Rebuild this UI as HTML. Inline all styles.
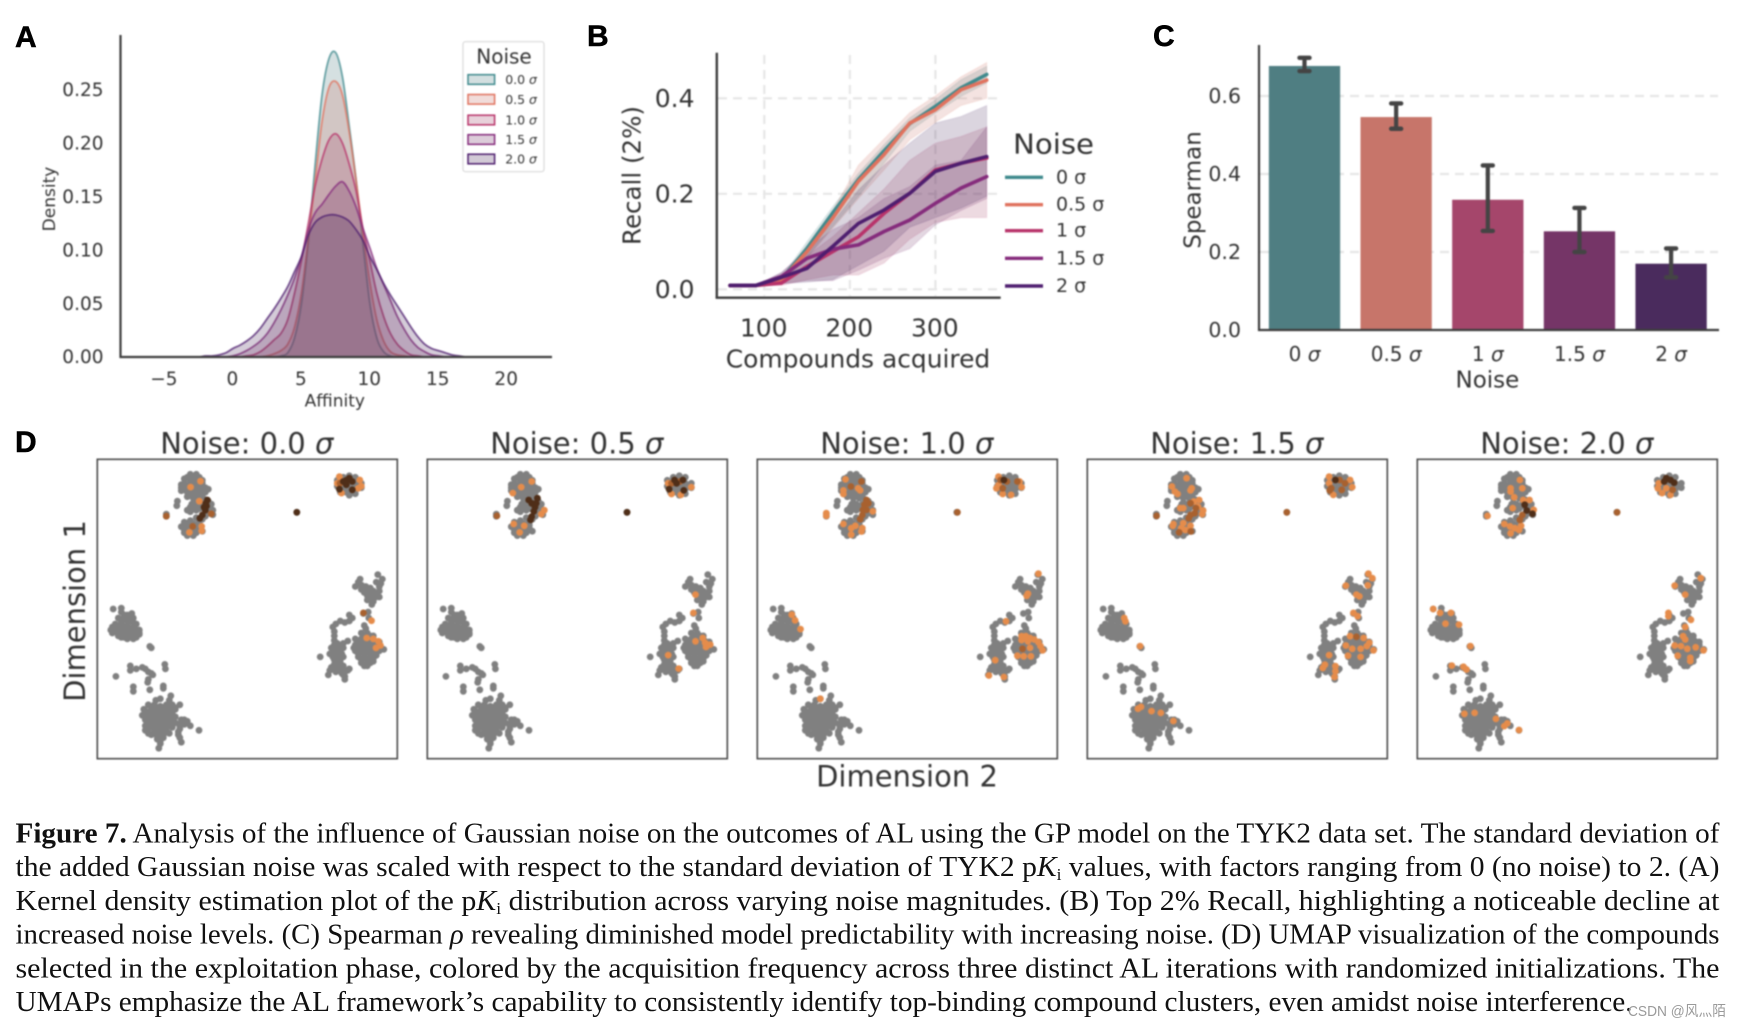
<!DOCTYPE html>
<html lang="en">
<head>
<meta charset="utf-8">
<title>Figure 7</title>
<style>
html,body{margin:0;padding:0;background:#fff;}
svg{display:block;}
text{font-family:"DejaVu Sans","Liberation Sans",sans-serif;fill:#333;}
.panel-letter{font-family:"Liberation Sans",sans-serif;font-weight:700;font-size:30px;fill:#000;stroke:#000;stroke-width:.5px;}
.cap{font-family:"Liberation Serif","Noto Serif CJK SC",serif;font-size:29px;fill:#111;}
</style>
</head>
<body>
<svg id="fig" xmlns="http://www.w3.org/2000/svg" width="1742" height="1027" viewBox="0 0 1742 1027">
  <rect x="0" y="0" width="1742" height="1027" fill="#fff"/>
  <g id="charts" style="filter:blur(0.7px)">
    <g id="panelA"></g>
    <g id="panelB"></g>
    <g id="panelC"></g>
    <g id="panelD"></g>
  </g>
  <text class="panel-letter" x="15" y="47">A</text>
  <text class="panel-letter" x="587" y="46">B</text>
  <text class="panel-letter" x="1153" y="46">C</text>
  <text class="panel-letter" x="15" y="452">D</text>
  <g style="filter:blur(0.3px)">
    <text class="cap" x="15.5" y="842.5" textLength="1704" lengthAdjust="spacingAndGlyphs"><tspan font-weight="700">Figure 7.</tspan> Analysis of the influence of Gaussian noise on the outcomes of AL using the GP model on the TYK2 data set. The standard deviation of</text>
    <text class="cap" x="15.5" y="876" textLength="1704" lengthAdjust="spacingAndGlyphs">the added Gaussian noise was scaled with respect to the standard deviation of TYK2 p<tspan font-style="italic">K</tspan><tspan dy="4" font-size="17">i</tspan><tspan dy="-4"> values, with factors ranging from 0 (no noise) to 2. (A)</tspan></text>
    <text class="cap" x="15.5" y="910" textLength="1704" lengthAdjust="spacingAndGlyphs">Kernel density estimation plot of the p<tspan font-style="italic">K</tspan><tspan dy="4" font-size="17">i</tspan><tspan dy="-4"> distribution across varying noise magnitudes. (B) Top 2% Recall, highlighting a noticeable decline at</tspan></text>
    <text class="cap" x="15.5" y="943.5" textLength="1704" lengthAdjust="spacingAndGlyphs">increased noise levels. (C) Spearman <tspan font-style="italic">ρ</tspan> revealing diminished model predictability with increasing noise. (D) UMAP visualization of the compounds</text>
    <text class="cap" x="15.5" y="977.5" textLength="1704" lengthAdjust="spacingAndGlyphs">selected in the exploitation phase, colored by the acquisition frequency across three distinct AL iterations with randomized initializations. The</text>
    <text class="cap" x="15.5" y="1011" textLength="1617" lengthAdjust="spacingAndGlyphs">UMAPs emphasize the AL framework’s capability to consistently identify top-binding compound clusters, even amidst noise interference.</text>
  </g>
  <text x="1628" y="1016" textLength="98" lengthAdjust="spacingAndGlyphs" style="font-family:'Liberation Sans','Noto Sans CJK SC',sans-serif;font-size:14.5px;fill:#9a9a9a">CSDN @风灬陌</text>
</svg>
<script>
/* ---------- shared ---------- */
const noiseColors = ['#3f8a8d', '#e0725e', '#b8336a', '#852b7c', '#4e1e6f'];
const noiseFillColors = ['#4f7e82', '#c7756a', '#a5466b', '#753567', '#4a2b5d'];

/* ---------- panel A data ---------- */
const kdeGrid = [-3,-2.5,-2,-1.5,-1,-.5,0,.5,1,1.5,2,2.5,3,3.5,4,4.5,5,5.5,6,6.5,7,7.5,8,8.5,9,9.5,10,10.5,11,11.5,12,12.5,13,13.5,14,14.5,15,15.5,16,16.5,17,17.5,18];
const kdeNoise00 = [0,0,0,0,0,0,0,0,0,0,0,0,0,.001,.004,.018,.05,.108,.18,.245,.279,.285,.262,.215,.165,.105,.05,.018,.005,.001,0,0,0,0,0,0,0,0,0,0,0,0,0];
const kdeNoise05 = [0,0,0,0,0,0,0,0,0,0,0,.001,.003,.006,.012,.028,.06,.11,.165,.22,.252,.258,.245,.21,.165,.115,.07,.035,.015,.005,.002,.001,0,0,0,0,0,0,0,0,0,0,0];
const kdeNoise10 = [0,0,0,0,0,0,0,0,.001,.002,.005,.01,.016,.022,.035,.06,.09,.125,.16,.185,.203,.209,.2,.18,.155,.12,.09,.06,.038,.022,.012,.006,.002,.001,0,0,0,0,0,0,0,0,0];
const kdeNoise15 = [0,0,0,0,0,0,.001,.003,.006,.01,.015,.022,.032,.044,.058,.074,.094,.119,.135,.143,.152,.16,.164,.155,.14,.12,.102,.083,.068,.053,.038,.026,.016,.009,.005,.002,.001,0,0,0,0,0,0];
const kdeNoise20 = [0,0,.001,.001,.002,.004,.008,.011,.015,.02,.027,.036,.045,.055,.066,.08,.094,.114,.126,.131,.133,.133,.131,.127,.119,.109,.094,.082,.069,.058,.048,.038,.028,.019,.012,.008,.006,.004,.002,.001,0,0,0];
const kdeLabels = ['0.0 σ', '0.5 σ', '1.0 σ', '1.5 σ', '2.0 σ'];
const kdeXTicks = [-5, 0, 5, 10, 15, 20];
const kdeXTickLabels = ['−5', '0', '5', '10', '15', '20'];
const kdeYTicks = [0, .05, .10, .15, .20, .25];
const kdeYTickLabels = ['0.00', '0.05', '0.10', '0.15', '0.20', '0.25'];

/* ---------- panel B data ---------- */
const acquired = [60, 90, 120, 150, 180, 210, 240, 270, 300, 330, 360];
const recallMean00 = [.008,.008,.02,.086,.16,.23,.29,.347,.383,.422,.45];
const recallUpper00 = [.008,.008,.025,.1,.173,.243,.303,.359,.397,.439,.467];
const recallLower00 = [.008,.008,.015,.068,.131,.194,.264,.331,.369,.404,.432];
const recallMean05 = [.008,.008,.02,.079,.149,.226,.282,.348,.376,.418,.438];
const recallUpper05 = [.008,.008,.025,.092,.165,.26,.315,.37,.405,.445,.475];
const recallLower05 = [.008,.008,.015,.065,.128,.19,.25,.313,.35,.385,.4];
const recallMean10 = [.008,.008,.013,.048,.079,.11,.159,.201,.25,.264,.275];
const recallUpper10 = [.008,.008,.02,.07,.11,.16,.21,.27,.306,.32,.34];
const recallLower10 = [.008,.008,.008,.02,.03,.03,.055,.105,.14,.15,.15];
const recallMean15 = [.008,.008,.027,.065,.084,.093,.121,.145,.18,.212,.236];
const recallUpper15 = [.008,.008,.035,.085,.125,.15,.19,.215,.26,.27,.34];
const recallLower15 = [.008,.008,.012,.018,.018,.04,.065,.085,.135,.165,.19];
const recallMean20 = [.008,.008,.025,.044,.09,.138,.166,.201,.247,.264,.278];
const recallUpper20 = [.008,.008,.035,.08,.14,.208,.26,.306,.348,.362,.385];
const recallLower20 = [.008,.008,.012,.015,.02,.05,.08,.13,.15,.17,.195];
const recallLabels = ['0 σ', '0.5 σ', '1 σ', '1.5 σ', '2 σ'];
const recallXTicks = [100, 200, 300];
const recallXTickLabels = ['100', '200', '300'];
const recallYTicks = [0, .2, .4];
const recallYTickLabels = ['0.0', '0.2', '0.4'];

/* ---------- panel C data ---------- */
const spearmanCategories = ['0 σ', '0.5 σ', '1 σ', '1.5 σ', '2 σ'];
const spearmanValues = [.677, .546, .334, .253, .17];
const spearmanUpper = [.698, .581, .422, .313, .209];
const spearmanLower = [.664, .516, .254, .2, .135];
const spearmanBarColors = ['#4f7e82', '#c7756a', '#a5466b', '#753567', '#4a2b5d'];
const spearmanYTicks = [0, .2, .4, .6];
const spearmanYTickLabels = ['0.0', '0.2', '0.4', '0.6'];

/* ---------- panel D data: UMAP coordinates (dim2, dim1; dim1 axis runs top-down, 0-100) ---------- */
const umapTitles = ['Noise: 0.0 σ', 'Noise: 0.5 σ', 'Noise: 1.0 σ', 'Noise: 1.5 σ', 'Noise: 2.0 σ'];
const frequencyColors = ['#808080', '#e58c4b', '#a8612f', '#4f2e18'];
const umapBackground = [
[31,5],[33,5],[29,6.5],[31,7],[33,7],[35,7],[28,8.5],[30,9],[32,9],[34,9],[36,9.5],[28,10.5],[30,11],[32,11],[34,11],[36,11],[30,12.5],[32,13],[34,13],[35,12.5],
[30,6],[32,6],[34,6],[29,8],[31,8],[33,8],[35,8],[29,10],[31,10],[33,10],[35,10],[31,12],[33,12],[28,9.5],[37,10],
[26.7,14],[26.5,15.5],[31,16],[32,16.5],[33,15],[30,17],[34,16.5],[38.5,17],[37,14],[38,15],[37,18],[38.5,18.5],[36,19],[35,20],[23,19],[23,18.3],
[31.5,15],[33,17],[31,17.5],[32,14.5],[36,16],[37,16],[35,15],[36,13.5],[36,18],
[29,21],[31,20.5],[33,19.5],[28,22.5],[30,22.5],[32,22.5],[34,22],[29,24.5],[31,24.5],[33,24.5],[35,24],[30,25.5],[32,25.5],[34,23],
[30,21.5],[32,21.5],[29,23.5],[31,23.5],[33,23.5],[34,21],[30,24],[32,24.5],
[84,5.5],[82,6],[86,6],[80,7],[82,8],[84,8],[86,8],[88,8],[80,9],[82,10],[84,10],[86,10],[88,9.5],[81,11],[84,12],[86,11.5],[66.5,17.7],
[83,7],[85,7],[81,8],[83,9],[85,9],[87,9],[83,11],[85,11],[84,6.5],[82,9],
[93.5,38.5],[95,40],[93,41],[91,43],[87.6,40],[88,42],[86,42.5],[90,43],[92,44],[94,44],[89,44.5],[91,45.5],[93,46],[94,46],[90,47],[92,47.5],[91.5,48.5],
[89.5,42.5],[91,44.5],[93,45],[90,45.5],[92,46],[91,47],[88,43.5],[87,41],[94,42.5],[94.5,41.5],
[84,52],[85,53],[84,54],[82.5,54.5],[81,54],[79.5,55],[78.5,56],[79,57.5],[79,59],[88.7,51.5],[90.3,51],[90.5,53],[89,55.5],[89.5,56.5],
[83.5,60.7],[82,61.5],[81,62.5],[79,60.5],[79.5,61.5],
[78,63],[80,63],[82,63],[77.5,65],[79.5,65],[81.5,65],[79,67],[81,67],[80,69],[82,69],[78,69.5],[77.5,70.5],[79.5,71],[81.5,70.5],[83.5,70.5],[84,70],[82,72],[82.5,73.5],[77,72],[74.3,66],[82.5,72.5],
[79,64],[81,64],[78.5,66],[80.5,66],[82,66],[80,68],[81,68],[79,68.5],[81,69.5],[80,70],[79,70],[82.5,71],[81.5,71.5],[79,62],[80,61.5],
[88,58],[90,58],[92,59],[86,60],[88,60],[90,60],[92,60],[94,61],[86,62],[88,62],[90,62],[92,62],[94,62],[86,64],[88,64],[90,64],[92,64],[94,64],[87,66],[89,66],[91,66],[93,65.5],[88,68],[90,68],[92,67.5],[90,69],[95.5,63.5],
[87,61],[89,61],[91,61],[93,61],[87,63],[89,63],[91,63],[93,63],[87,65],[89,65],[91,65],[93,64.5],[88,67],[90,67],[92,66.5],[89,59],[91,59],[85.5,63],[89,69],[91,68],
[5.3,50],[8,49.7],[11.5,51.5],[8,51],[10,52],[12,53],[7,53],[9,53.5],[11,54],[13,55],[6,55],[8,55],[10,55.5],[12,56],[14,57],[4.5,57],[6,57],[8,57.5],[10,57.5],[12,58],[14,58.5],[7,59],[9,59.5],[11,59.5],[13,59.5],[12,60],[10,59],
[9,52.5],[11,53],[8,54],[10,54],[12,54.5],[7,56],[9,56.5],[11,56.5],[13,57],[5,56],[5,58],[7,58],[9,58],[11,58],[13,58],[8,59.5],[10,60],[12,59],[9,52],[6,57.5],[14,58],
[17.5,62.5],[18,63],[11,69],[11,70.5],[13,70],[15,69.5],[16,70],[17,71],[18,71.5],[18.5,72],[17,73.5],[16.8,74.5],[22.5,68.5],[22.7,70],[6.2,72.5],[12,76],[12,77.5],[17.5,77],[22,75.7],[22,76.5],[21,80],[19.5,80.5],[24.5,79],[24,80.5],
[17,82],[19,82],[21,82.5],[23,82],[25,82],[27.5,82],[16,84],[18,84],[20,84],[22,84],[24,84],[26,83.5],[15,85.5],[17,85.5],[19,86],[21,86],[23,86],[25,85.5],[17,88],[19,88],[21,88],[23,88],[25,87.5],[17,90],[19,90],[21,90],[23,90],[25,89.5],[16,90.5],[18,92],[20,92],[22,92],[24,91.5],[20,93.5],[21,94],
[18,83],[20,83],[22,83],[24,83],[26,83],[17,85],[19,85],[21,85],[23,85],[25,84.5],[18,87],[20,87],[22,87],[24,87],[16,87],[18,89],[20,89],[22,89],[24,89],[26,88],[19,91],[21,91],[23,91],[17,91.5],[15.5,83.5],[20,92.5],[22,93],[26,86],[28,88],[29,87],[27,91],[16,89],
[28,87],[30,87.5],[31,89],[29,88.5],[27.5,89],[27.5,90],[27,92],[27.5,93],[28,94.5],[21,93.5],[21,95],[20.5,96.5],[33.9,90.5]
];
/* selected compounds: [dim2, dim1, acquisition frequency] */
const selectedNoise00 = [
[31.1,9.3,1],[34.4,7.3,1],[23,19,2],[31.8,22.4,2],[34.8,22.4,1],[34.8,23.9,1],[30.7,24.4,1],[34,14,1],[38,18.2,2],
[36.7,13.6,3],[36.2,14.7,3],[35.6,16,3],[36,17,3],[35,18.6,3],[34.2,19.7,3],[36.4,15.6,3],
[80.7,5.8,1],[80,8,1],[81.4,11.3,1],[87.5,6.9,1],[88,9,1],[87,9.7,1],[80.9,8,2],
[83,7,3],[84,6.3,3],[85,7.4,3],[82,7.4,3],[83,8.5,3],[80.7,10,3],[85,10.2,3],[66.5,17.7,3],
[88.7,51.3,2],[91.4,53.9,1],[89.8,59.7,1],[92,60,1],[93.7,60.8,1],[94.4,62.2,1],[92.9,63,1]
];
const selectedNoise05 = [
[34.8,7.4,1],[31.3,9.3,1],[28.5,11.3,1],[39,17,1],[38,18.3,1],[28.8,21.6,1],[32.3,22.2,1],[30.8,24.4,1],[23.2,18.9,2],
[33.8,13.6,3],[36.7,13,3],[36.3,14.7,3],[35.9,16,3],[35.5,17.4,3],[34.8,19.1,3],[34.4,20.2,3],[34.8,14.7,3],
[80.3,8,1],[81.4,11.6,1],[84.5,11.9,1],[88,9.3,1],[84.2,7.4,2],[81.4,8,2],
[82.4,6.9,3],[85.2,6.9,3],[83.1,8,3],[80.6,10,3],[85.5,10.4,3],[66.6,17.7,3],
[89.4,45.2,1],[88.7,51.3,1],[89.4,60.8,1],[91.8,59.7,1],[92.6,61.3,1],[92.9,62.7,1],[94.3,61.9,1],[80.3,65.4,1],[83.8,69.9,1]
];
const selectedNoise10 = [
[29.4,6.7,1],[33.6,9.7,1],[34.3,10.4,1],[28.7,10.4,1],[28.7,11.6,1],[31.2,9.1,2],[34.7,7.4,2],
[38.5,17.4,1],[28.7,21.6,1],[31.3,23,1],[32.7,22.2,1],[31.3,25.2,1],[35,23,1],[34.7,24.1,1],[23,18.9,1],[23,18,1],
[36.4,13.6,2],[35.7,15.2,2],[35.2,16.9,2],[35,18.6,2],[34.3,20,2],[37,14.7,2],[36.4,16.9,2],
[80.4,5.8,1],[80.4,8.6,1],[81.8,11.6,1],[84.6,11.9,1],[87.4,7.4,1],[88.1,9.3,1],[79.7,9.7,1],
[81.1,6.9,2],[83.2,7.4,2],[81.8,9.7,2],[86.7,7.4,2],[82.2,6.9,3],[66.7,17.7,2],
[11.5,51.9,1],[12.6,53.8,1],[14.4,56.7,1],[21,80,1],
[93.7,38.2,1],[90.2,44.9,1],[89.8,45.6,1],[82.9,54.1,1],
[88.1,59.1,1],[89.5,59.1,1],[90.9,59.7,1],[92.3,60.2,1],[93.7,61.1,1],[95.1,63.8,1],[94.4,62.4,1],[88.1,60.4,1],[90.2,60.8,1],[90.9,63,1],[86.7,65.6,1],[88.8,65.8,1],[91.2,65.8,1],[88.4,63.3,2],
[79.3,67.1,1],[77.2,72.2,1],[82.2,72.7,1]
];
const selectedNoise15 = [
[33.1,6.3,1],[34.8,9.7,1],[34.4,10.4,1],[28.2,9.1,1],[29.2,10.8,1],[30.1,11.6,1],[31,16.3,1],[32,16.3,1],[35.5,14.1,1],[37.3,13.6,1],[36.9,15.8,1],[38.6,17.1,1],[38.3,18.3,1],
[36.2,16.3,2],[35.8,18,2],[34.4,18.6,2],[34.4,14.7,2],[33.8,19.7,2],[23.1,18.9,2],
[28.7,21.6,1],[32,21.3,1],[31.3,23,1],[28.5,22.2,1],[34.4,22.2,1],[32.7,23.6,1],[34.5,24.1,2],[30.6,24.4,2],
[80.6,5.8,1],[80.6,8,1],[82,11.9,1],[88.3,9.3,1],[87.6,6.9,1],[81.3,9.7,2],[80.8,10.4,2],[84.8,10.2,2],[84.1,6.9,2],[85.9,8,2],[82.7,6.9,3],[66.5,17.7,2],
[12.3,53,1],[12.7,54.1,1],[17.6,62.4,1],[17.9,82.7,1],[16.9,83.3,1],[21.4,84.1,1],[24.5,84.7,1],[28.7,87.4,1],
[93.7,38.2,1],[95,39.7,1],[93.5,42.1,1],[86.2,42.2,1],[89.7,45.2,1],[90.7,45.8,1],[88.7,51.3,1],[90.1,52.4,1],
[87.6,59.1,1],[92.1,59.7,1],[94,61.3,1],[86.2,62.2,1],[88.3,63.3,1],[91.1,63.3,1],[95.4,63.8,1],[86.9,65.6,1],[91.1,66,1],[93.2,62.4,1],[89.7,59.3,2],
[80.6,65.4,1],[79.2,68.6,1],[78.5,69.7,1],[82.7,69.1,1],[82.7,70.8,1],[82.4,72.7,1]
];
const selectedNoise20 = [
[34.2,6.9,1],[31.1,9.7,1],[31.1,10.8,1],[35,9.7,1],[32.3,12.7,1],[31.8,16.3,1],[35.3,13.6,1],[37.4,13.6,1],[38.8,16.9,1],
[35,18.6,2],[34.2,20.2,2],[35.8,15.2,3],[36.5,17.1,3],[38.4,18.2,3],[23.4,18.9,1],
[29,21.6,1],[30.9,22.4,1],[32.5,23,1],[34.6,22.2,1],[31.1,24.7,1],[33.9,23.6,1],
[80.5,8,1],[80.2,9.7,1],[81.6,11.3,1],[84.4,11.9,1],[83,9.7,1],[85.1,10.2,2],[83,6.3,3],[84.4,6.9,3],[85.6,7.8,3],[82.3,7.4,3],[66.6,17.7,2],
[5.3,50,1],[7.6,51.3,1],[11.2,51.3,1],[9.4,54.9,1],[13.9,55.2,1],[17.7,62.4,1],[11.5,68.9,1],[15.4,69.3,1],[16.4,70.2,1],
[15.7,85,1],[19.1,84.7,1],[26.2,86.7,1],[30,88.2,1],[29,89.1,1],[33.9,90.4,1],
[94.5,39.7,1],[85.8,42.2,1],[89.3,45.2,1],[83.7,51.3,1],[83.7,52.4,1],[91.2,53.6,1],[89.3,56,1],
[88.6,59.1,1],[89.3,60.2,1],[85.8,62.2,1],[87.9,62.4,1],[92.8,62.8,1],[95.4,63.8,1],[90,63.3,1],[86.8,65.6,1],[91,66.3,1],[91,67.4,1]
];

/* ---------- helpers ---------- */
const NS = 'http://www.w3.org/2000/svg';
function mk(parent, tag, attrs) {
  const e = document.createElementNS(NS, tag);
  for (const k in attrs) e.setAttribute(k, attrs[k]);
  parent.appendChild(e);
  return e;
}
function label(parent, x, y, str, size, anchor, italicSigma) {
  const e = mk(parent, 'text', {x: x, y: y, 'font-size': size, 'text-anchor': anchor || 'start'});
  const i = str.indexOf('σ');
  if (i >= 0 && italicSigma) {
    e.appendChild(document.createTextNode(str.slice(0, i)));
    const t = mk(e, 'tspan', {'font-style': 'italic'});
    t.textContent = 'σ';
  } else {
    e.textContent = str;
  }
  return e;
}
function smoothPath(pts) {
  let d = 'M' + pts[0][0].toFixed(2) + ' ' + pts[0][1].toFixed(2);
  for (let i = 0; i < pts.length - 1; i++) {
    const p0 = pts[Math.max(i - 1, 0)], p1 = pts[i], p2 = pts[i + 1], p3 = pts[Math.min(i + 2, pts.length - 1)];
    const c1x = p1[0] + (p2[0] - p0[0]) / 6, c1y = Math.min(p1[1] + (p2[1] - p0[1]) / 6, 357);
    const c2x = p2[0] - (p3[0] - p1[0]) / 6, c2y = Math.min(p2[1] - (p3[1] - p1[1]) / 6, 357);
    d += 'C' + c1x.toFixed(2) + ' ' + c1y.toFixed(2) + ' ' + c2x.toFixed(2) + ' ' + c2y.toFixed(2) + ' ' + p2[0].toFixed(2) + ' ' + p2[1].toFixed(2);
  }
  return d;
}
function polyPath(pts) {
  return pts.map(function (p, i) { return (i ? 'L' : 'M') + p[0].toFixed(2) + ' ' + p[1].toFixed(2); }).join('');
}
const AXIS = '#3d3d3d';
const GRID = '#e6e6e6';

/* ---------- panel A ---------- */
(function () {
  const g = document.getElementById('panelA');
  const sx = function (v) { return 233 + v * 13.69; };
  const sy = function (v) { return 357 - v * 1068; };
  const series = [kdeNoise00, kdeNoise05, kdeNoise10, kdeNoise15, kdeNoise20];
  series.forEach(function (vals, s) {
    const pts = vals.map(function (v, i) { return [sx(kdeGrid[i]), sy(v)]; });
    const line = smoothPath(pts);
    const area = mk(g, 'path', {d: line + 'L' + sx(kdeGrid[kdeGrid.length - 1]) + ' ' + sy(0) + 'L' + sx(kdeGrid[0]) + ' ' + sy(0) + 'Z', fill: noiseFillColors[s], 'fill-opacity': .24, stroke: 'none'});
    
    
    const stroke = mk(g, 'path', {d: line, fill: 'none', stroke: noiseColors[s], 'stroke-width': 1.8, 'stroke-opacity': .75});
    
    
  });
  const yAxis = mk(g, 'line', {x1: 120.5, y1: 35, x2: 120.5, y2: 358, stroke: AXIS, 'stroke-width': 2.2});
  
  
  const xAxis = mk(g, 'line', {x1: 119.5, y1: 357, x2: 552, y2: 357, stroke: AXIS, 'stroke-width': 2.2});
  
  
  kdeXTicks.forEach(function (t, i) {
    const e = label(g, sx(t) - 0.6, 385, kdeXTickLabels[i], 18.5, 'middle');
    
    
  });
  kdeYTicks.forEach(function (t, i) {
    const e = label(g, 103.5, sy(t) + 6.2, kdeYTickLabels[i], 18.5, 'end');
    
    
  });
  const xt = label(g, 334.8, 406.5, 'Affinity', 17, 'middle');
  
  
  const yt = label(g, 0, 0, 'Density', 17, 'middle');
  yt.setAttribute('transform', 'translate(55 199) rotate(-90)');
  
  
  const box = mk(g, 'rect', {x: 463, y: 41.7, width: 81, height: 130, rx: 2.5, fill: '#fff', 'fill-opacity': .85, stroke: '#d9d9d9', 'stroke-width': 1.2});
  
  
  const lt = label(g, 504, 63.3, 'Noise', 20, 'middle');
  
  
  const swatchMid = [79.5, 99.3, 120, 139.5, 159];
  kdeLabels.forEach(function (t, i) {
    const sw = mk(g, 'rect', {x: 468, y: swatchMid[i] - 4.8, width: 26.6, height: 9.6, fill: noiseFillColors[i], 'fill-opacity': .25, stroke: noiseColors[i], 'stroke-width': 1.5});
    
    
    const e = label(g, 505.2, swatchMid[i] + 4.7, t, 12.5, 'start', true);
    
    
  });
})();

/* ---------- panel B ---------- */
(function () {
  const g = document.getElementById('panelB');
  const sx = function (v) { return 764.3 + (v - 100) * 0.8555; };
  const sy = function (v) { return 289.3 - v * 477.5; };
  recallXTicks.forEach(function (t) {
    const e = mk(g, 'line', {x1: sx(t), y1: 55, x2: sx(t), y2: 296, stroke: GRID, 'stroke-width': 2.2, 'stroke-dasharray': '9 6'});
    
    
  });
  recallYTicks.forEach(function (t) {
    const e = mk(g, 'line', {x1: 718, y1: sy(t), x2: 998, y2: sy(t), stroke: GRID, 'stroke-width': 2.2, 'stroke-dasharray': '9 6'});
    
    
  });
  const upper = [recallUpper00, recallUpper05, recallUpper10, recallUpper15, recallUpper20];
  const lower = [recallLower00, recallLower05, recallLower10, recallLower15, recallLower20];
  const mean = [recallMean00, recallMean05, recallMean10, recallMean15, recallMean20];
  upper.forEach(function (u, s) {
    const top = u.map(function (v, i) { return [sx(acquired[i]), sy(v)]; });
    const bot = lower[s].map(function (v, i) { return [sx(acquired[i]), sy(v)]; }).reverse();
    const e = mk(g, 'path', {d: polyPath(top.concat(bot)) + 'Z', fill: noiseFillColors[s], 'fill-opacity': .2, stroke: noiseColors[s], 'stroke-opacity': .12, 'stroke-width': 1});
    
    
  });
  mean.forEach(function (m, s) {
    const pts = m.map(function (v, i) { return [sx(acquired[i]), sy(v)]; });
    const e = mk(g, 'path', {d: polyPath(pts), fill: 'none', stroke: noiseColors[s], 'stroke-width': 3.6, 'stroke-linejoin': 'round', 'stroke-linecap': 'round'});
    
    
  });
  const yAxis = mk(g, 'line', {x1: 716.8, y1: 52.7, x2: 716.8, y2: 298, stroke: AXIS, 'stroke-width': 2.4});
  
  
  const xAxis = mk(g, 'line', {x1: 715.6, y1: 297.7, x2: 1000.7, y2: 297.7, stroke: AXIS, 'stroke-width': 2.4});
  
  
  recallXTicks.forEach(function (t, i) {
    const e = label(g, sx(t) - 0.6, 336.7, recallXTickLabels[i], 25, 'middle');
    
    
  });
  recallYTicks.forEach(function (t, i) {
    const e = label(g, 694.5, sy(t) + 8.5, recallYTickLabels[i], 25, 'end');
    
    
  });
  const xt = label(g, 858, 367.7, 'Compounds acquired', 25, 'middle');
  xt.setAttribute('textLength', '264.5');
  xt.setAttribute('lengthAdjust', 'spacingAndGlyphs');
  
  
  const yt = label(g, 0, 0, 'Recall (2%)', 25, 'middle');
  yt.setAttribute('transform', 'translate(640.4 175.5) rotate(-90)');
  yt.setAttribute('textLength', '139');
  yt.setAttribute('lengthAdjust', 'spacingAndGlyphs');
  
  
  const lt = label(g, 1053.5, 153.3, 'Noise', 28, 'middle');
  lt.setAttribute('textLength', '81');
  lt.setAttribute('lengthAdjust', 'spacingAndGlyphs');
  
  
  const legendMid = [177.3, 204.7, 230.7, 258.3, 286];
  recallLabels.forEach(function (t, i) {
    const l = mk(g, 'line', {x1: 1005, y1: legendMid[i], x2: 1043, y2: legendMid[i], stroke: noiseColors[i], 'stroke-width': 3.4});
    
    
    const e = label(g, 1056, legendMid[i] + 6, t, 19, 'start');
    
    
  });
})();

/* ---------- panel C ---------- */
(function () {
  const g = document.getElementById('panelC');
  const sx = function (i) { return 1304.5 + i * 91.65; };
  const sy = function (v) { return 330 - v * 390; };
  const barW = 71.3;
  spearmanYTicks.slice(1).forEach(function (t) {
    const e = mk(g, 'line', {x1: 1260, y1: sy(t), x2: 1718, y2: sy(t), stroke: GRID, 'stroke-width': 2.2, 'stroke-dasharray': '9 6'});
    
    
  });
  spearmanValues.forEach(function (v, i) {
    const b = mk(g, 'rect', {x: sx(i) - barW / 2, y: sy(v), width: barW, height: 330 - sy(v), fill: spearmanBarColors[i]});
    
    
  });
  spearmanValues.forEach(function (v, i) {
    const w = mk(g, 'line', {x1: sx(i), y1: sy(spearmanUpper[i]), x2: sx(i), y2: sy(spearmanLower[i]), stroke: '#444', 'stroke-width': 4.2});
    
    
    [spearmanUpper[i], spearmanLower[i]].forEach(function (c) {
      const cap = mk(g, 'line', {x1: sx(i) - 5, y1: sy(c), x2: sx(i) + 5, y2: sy(c), stroke: '#444', 'stroke-width': 4.4, 'stroke-linecap': 'round'});
      
      
    });
    const e = label(g, sx(i), 361, spearmanCategories[i], 20, 'middle', true);
    
    
  });
  const yAxis = mk(g, 'line', {x1: 1259, y1: 45, x2: 1259, y2: 331, stroke: AXIS, 'stroke-width': 2.2});
  
  
  const xAxis = mk(g, 'line', {x1: 1258, y1: 330, x2: 1719, y2: 330, stroke: AXIS, 'stroke-width': 2.2});
  
  
  spearmanYTicks.forEach(function (t, i) {
    const e = label(g, 1241, sy(t) + 7, spearmanYTickLabels[i], 20.5, 'end');
    
    
  });
  const xt = label(g, 1487.4, 387.3, 'Noise', 23, 'middle');
  
  
  const yt = label(g, 0, 0, 'Spearman', 23, 'middle');
  yt.setAttribute('transform', 'translate(1200.6 190) rotate(-90)');
  
  
})();

/* ---------- panel D ---------- */
(function () {
  const g = document.getElementById('panelD');
  const selections = [selectedNoise00, selectedNoise05, selectedNoise10, selectedNoise15, selectedNoise20];
  const frameW = 300, frameH = 299.4, frameY = 459.3;
  selections.forEach(function (sel, p) {
    const frameX = 97.3 + p * 330;
    const sx = function (u) { return frameX + u / 100 * frameW; };
    const sy = function (v) { return frameY + v / 100 * frameH; };
    const frame = mk(g, 'rect', {x: frameX, y: frameY, width: frameW, height: frameH, fill: '#fff', stroke: '#4a4a4a', 'stroke-width': 1.6});
    
    
    umapBackground.forEach(function (pt) {
      const c = mk(g, 'circle', {cx: sx(pt[0]).toFixed(1), cy: sy(pt[1]).toFixed(1), r: 3.4, fill: frequencyColors[0]});
      
      
    });
    sel.slice().sort(function (a, b) { return a[2] - b[2]; }).forEach(function (pt) {
      const c = mk(g, 'circle', {cx: sx(pt[0]).toFixed(1), cy: sy(pt[1]).toFixed(1), r: 3.4, fill: frequencyColors[pt[2]]});
      
      
    });
    const t = label(g, frameX + frameW / 2 - 0.5, 453.3, umapTitles[p], 29, 'middle', true);
    
    
  });
  const yt = label(g, 0, 0, 'Dimension 1', 29, 'middle');
  yt.setAttribute('transform', 'translate(85 611) rotate(-90)');
  
  
  const xt = label(g, 907, 786.7, 'Dimension 2', 29, 'middle');
  
  
})();
</script>
</body>
</html>
